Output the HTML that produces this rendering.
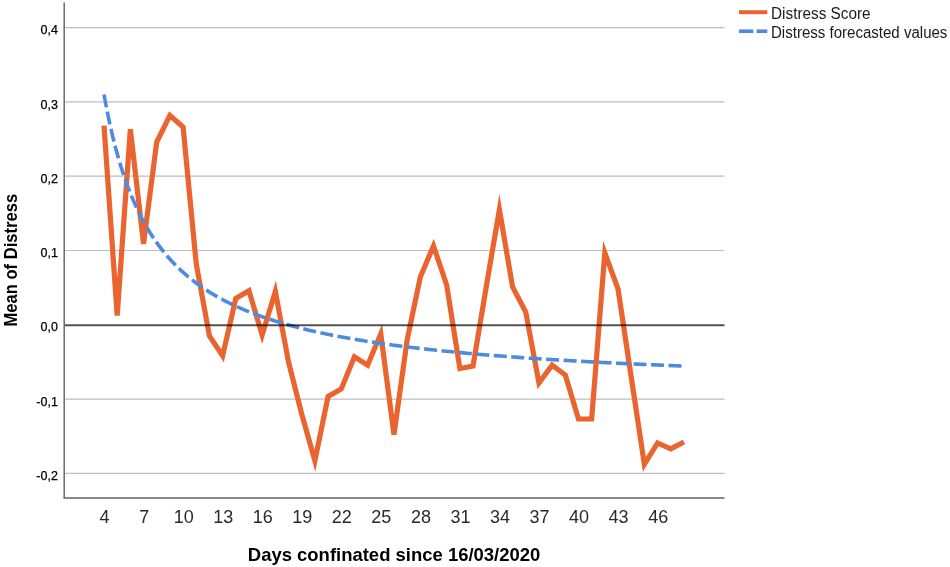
<!DOCTYPE html>
<html><head><meta charset="utf-8"><style>
html,body{margin:0;padding:0;background:#fff;}
body{width:950px;height:567px;overflow:hidden;}
svg{display:block;will-change:transform;}
#w{width:950px;height:567px;}
text{font-family:"Liberation Sans",sans-serif;fill:#1a1a1a;}
.yl{font-size:12.5px;text-anchor:end;fill:#000;stroke:#000;stroke-width:0.25px;}
.xl{font-size:18px;text-anchor:middle;fill:#2a2a2a;}
.xt{font-size:19px;font-weight:bold;fill:#000;}
.yt{font-size:17.5px;font-weight:bold;fill:#000;}
.lg{font-size:16px;fill:#1a1a1a;}
</style></head><body>
<div id="w"><svg width="950" height="567" viewBox="0 0 950 567">
<rect width="950" height="567" fill="#fff"/>
<line x1="64.2" y1="27.60" x2="724.5" y2="27.60" stroke="#BEBEBE" stroke-width="1.2"/>
<text x="57.9" y="34.20" class="yl">0,4</text>
<line x1="64.2" y1="101.90" x2="724.5" y2="101.90" stroke="#BEBEBE" stroke-width="1.2"/>
<text x="57.9" y="108.50" class="yl">0,3</text>
<line x1="64.2" y1="176.20" x2="724.5" y2="176.20" stroke="#BEBEBE" stroke-width="1.2"/>
<text x="57.9" y="182.80" class="yl">0,2</text>
<line x1="64.2" y1="250.50" x2="724.5" y2="250.50" stroke="#BEBEBE" stroke-width="1.2"/>
<text x="57.9" y="257.10" class="yl">0,1</text>
<text x="57.9" y="331.40" class="yl">0,0</text>
<line x1="64.2" y1="399.10" x2="724.5" y2="399.10" stroke="#BEBEBE" stroke-width="1.2"/>
<text x="57.9" y="405.70" class="yl">-0,1</text>
<line x1="64.2" y1="473.40" x2="724.5" y2="473.40" stroke="#BEBEBE" stroke-width="1.2"/>
<text x="57.9" y="480.00" class="yl">-0,2</text>
<polyline points="104.00,125.60 117.18,315.45 130.36,129.20 143.54,243.95 156.72,142.00 169.90,115.40 183.08,127.00 196.26,264.00 209.44,336.00 222.62,355.75 235.80,298.50 248.98,290.75 262.16,334.95 275.34,291.50 288.52,362.00 301.70,414.00 314.88,460.75 328.06,396.50 341.24,389.00 354.42,356.75 367.60,365.20 380.78,333.85 393.96,434.65 407.14,340.00 420.32,277.00 433.50,245.95 446.68,285.00 459.86,368.50 473.04,366.00 486.22,287.00 499.40,209.50 512.58,287.00 525.76,312.00 538.94,383.00 552.12,365.10 565.30,375.00 578.48,419.00 591.66,419.00 604.84,252.85 618.02,289.00 631.20,377.00 644.38,464.30 657.56,442.95 670.74,448.90 683.92,442.00" fill="none" stroke="#E9642F" stroke-width="5.2" stroke-linejoin="miter" stroke-miterlimit="7.3"/>
<polyline points="104.00,94.50 106.90,109.95 109.80,123.86 112.70,136.47 115.60,147.93 118.50,158.41 121.40,168.02 124.30,176.86 127.20,185.04 130.10,192.61 133.00,199.64 135.90,206.19 138.80,212.31 141.69,218.03 144.59,223.40 147.49,228.44 150.39,233.19 153.29,237.67 156.19,241.91 159.09,245.91 161.99,249.70 164.89,253.31 167.79,256.73 170.69,259.98 173.59,263.08 176.49,266.04 179.39,268.87 182.29,271.56 185.19,274.15 188.09,276.62 190.99,278.99 193.89,281.26 196.79,283.44 199.69,285.54 202.59,287.56 205.49,289.50 208.39,291.37 211.29,293.17 214.18,294.91 217.08,296.59 219.98,298.21 222.88,299.77 225.78,301.28 228.68,302.75 231.58,304.16 234.48,305.53 237.38,306.86 240.28,308.15 243.18,309.40 246.08,310.61 248.98,311.79 251.88,312.93 254.78,314.04 257.68,315.12 260.58,316.17 263.48,317.19 266.38,318.18 269.28,319.14 272.18,320.08 275.08,321.00 277.98,321.89 280.88,322.76 283.78,323.61 286.67,324.44 289.57,325.25 292.47,326.03 295.37,326.80 298.27,327.56 301.17,328.29 304.07,329.01 306.97,329.71 309.87,330.39 312.77,331.06 315.67,331.72 318.57,332.36 321.47,332.99 324.37,333.60 327.27,334.20 330.17,334.79 333.07,335.37 335.97,335.93 338.87,336.48 341.77,337.03 344.67,337.56 347.57,338.08 350.47,338.59 353.37,339.09 356.27,339.58 359.16,340.06 362.06,340.54 364.96,341.00 367.86,341.46 370.76,341.91 373.66,342.35 376.56,342.78 379.46,343.20 382.36,343.62 385.26,344.03 388.16,344.43 391.06,344.83 393.96,345.22 396.86,345.60 399.76,345.97 402.66,346.34 405.56,346.71 408.46,347.07 411.36,347.42 414.26,347.76 417.16,348.11 420.06,348.44 422.96,348.77 425.86,349.10 428.76,349.42 431.65,349.73 434.55,350.04 437.45,350.35 440.35,350.65 443.25,350.95 446.15,351.24 449.05,351.53 451.95,351.81 454.85,352.09 457.75,352.37 460.65,352.64 463.55,352.91 466.45,353.17 469.35,353.44 472.25,353.69 475.15,353.95 478.05,354.20 480.95,354.44 483.85,354.69 486.75,354.93 489.65,355.17 492.55,355.40 495.45,355.63 498.35,355.86 501.25,356.08 504.14,356.31 507.04,356.53 509.94,356.74 512.84,356.96 515.74,357.17 518.64,357.38 521.54,357.58 524.44,357.79 527.34,357.99 530.24,358.19 533.14,358.38 536.04,358.58 538.94,358.77 541.84,358.96 544.74,359.14 547.64,359.33 550.54,359.51 553.44,359.69 556.34,359.87 559.24,360.05 562.14,360.22 565.04,360.39 567.94,360.57 570.84,360.73 573.74,360.90 576.63,361.07 579.53,361.23 582.43,361.39 585.33,361.55 588.23,361.71 591.13,361.86 594.03,362.02 596.93,362.17 599.83,362.32 602.73,362.47 605.63,362.62 608.53,362.77 611.43,362.91 614.33,363.06 617.23,363.20 620.13,363.34 623.03,363.48 625.93,363.62 628.83,363.75 631.73,363.89 634.63,364.02 637.53,364.15 640.43,364.29 643.33,364.42 646.23,364.54 649.12,364.67 652.02,364.80 654.92,364.92 657.82,365.05 660.72,365.17 663.62,365.29 666.52,365.41 669.42,365.53 672.32,365.65 675.22,365.76 678.12,365.88 681.02,365.99 683.92,366.11" fill="none" stroke="#4E8BE0" stroke-width="3.6" stroke-dasharray="13 4.5"/>
<line x1="64.2" y1="325.20" x2="724.5" y2="325.20" stroke="#000" stroke-opacity="0.68" stroke-width="2"/>
<line x1="64.2" y1="2.5" x2="64.2" y2="498.1" stroke="#6a6a6a" stroke-width="1.5"/>
<line x1="63.45" y1="498.1" x2="724.5" y2="498.1" stroke="#626262" stroke-width="1.5"/>
<text x="104.60" y="523.2" class="xl">4</text>
<text x="144.14" y="523.2" class="xl">7</text>
<text x="183.68" y="523.2" class="xl">10</text>
<text x="223.22" y="523.2" class="xl">13</text>
<text x="262.76" y="523.2" class="xl">16</text>
<text x="302.30" y="523.2" class="xl">19</text>
<text x="341.84" y="523.2" class="xl">22</text>
<text x="381.38" y="523.2" class="xl">25</text>
<text x="420.92" y="523.2" class="xl">28</text>
<text x="460.46" y="523.2" class="xl">31</text>
<text x="500.00" y="523.2" class="xl">34</text>
<text x="539.54" y="523.2" class="xl">37</text>
<text x="579.08" y="523.2" class="xl">40</text>
<text x="618.62" y="523.2" class="xl">43</text>
<text x="658.16" y="523.2" class="xl">46</text>
<text x="247.8" y="560.5" class="xt" textLength="292.5" lengthAdjust="spacingAndGlyphs">Days confinated since 16/03/2020</text>
<text transform="translate(16.8,326.6) rotate(-90)" x="0" y="0" class="yt" textLength="132.8" lengthAdjust="spacingAndGlyphs">Mean of Distress</text>
<line x1="739" y1="12.2" x2="767.3" y2="12.2" stroke="#E9642F" stroke-width="4"/>
<line x1="739" y1="31.2" x2="753.3" y2="31.2" stroke="#4E8BE0" stroke-width="3.6"/>
<line x1="756.7" y1="31.2" x2="767.3" y2="31.2" stroke="#4E8BE0" stroke-width="3.6"/>
<text x="771" y="18.8" class="lg" textLength="99.6" lengthAdjust="spacingAndGlyphs">Distress Score</text>
<text x="771" y="37.6" class="lg" textLength="176.4" lengthAdjust="spacingAndGlyphs">Distress forecasted values</text>
</svg></div>
</body></html>
